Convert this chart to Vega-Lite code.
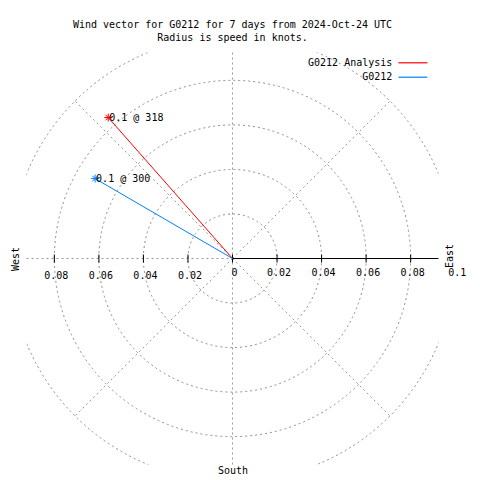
{
  "$schema": "https://vega.github.io/schema/vega-lite/v6.json",
  "width": 412,
  "height": 412,
  "autosize": {"type": "none"},
  "padding": {"left": 26.5, "top": 52.5, "right": 41.5, "bottom": 15.5},
  "background": "white",
  "title": {
    "text": ["Wind vector for G0212 for 7 days from 2024-Oct-24 UTC", "Radius is speed in knots."],
    "font": "DejaVu Sans Mono",
    "fontSize": 10,
    "fontWeight": "normal",
    "lineHeight": 13,
    "offset": 9.5,
    "anchor": "middle",
    "frame": "group",
    "color": "black"
  },
  "config": {
    "view": {"stroke": null},
    "axis": {
      "labels": false,
      "ticks": false,
      "domain": false,
      "grid": false,
      "titleFont": "DejaVu Sans Mono",
      "titleFontSize": 10,
      "titleFontWeight": "normal",
      "titleColor": "black"
    },
    "text": {"font": "DejaVu Sans Mono", "fontSize": 10, "color": "black"}
  },
  "datasets": {
    "rings": [{"r": 0.02}, {"r": 0.04}, {"r": 0.06}, {"r": 0.08}, {"r": 0.1}],
    "spokes": [
      {"x": 0, "y": -0.0925, "x2": 0, "y2": 0.0925},
      {"x": -0.0925, "y": 0, "x2": 0, "y2": 0},
      {"x": 0, "y": 0, "x2": 0.0707, "y2": 0.0707},
      {"x": 0, "y": 0, "x2": -0.0707, "y2": 0.0707},
      {"x": 0, "y": 0, "x2": -0.0707, "y2": -0.0707},
      {"x": 0, "y": 0, "x2": 0.0707, "y2": -0.0707}
    ],
    "ticks": [
      {"v": -0.08, "label": "0.08"},
      {"v": -0.06, "label": "0.06"},
      {"v": -0.04, "label": "0.04"},
      {"v": -0.02, "label": "0.02"},
      {"v": 0, "label": "0"},
      {"v": 0.02, "label": "0.02"},
      {"v": 0.04, "label": "0.04"},
      {"v": 0.06, "label": "0.06"},
      {"v": 0.08, "label": "0.08"}
    ],
    "segments": [
      {"name": "G0212 Analysis", "u": 0, "v": 0, "o": 0},
      {"name": "G0212 Analysis", "u": -0.0558, "v": 0.0633, "o": 1},
      {"name": "G0212", "u": 0, "v": 0, "o": 0},
      {"name": "G0212", "u": -0.0617, "v": 0.0359, "o": 1}
    ],
    "vectors": [
      {"name": "G0212 Analysis", "u": -0.0558, "v": 0.0633, "label": "0.1 @ 318"},
      {"name": "G0212", "u": -0.0617, "v": 0.0359, "label": "0.1 @ 300"}
    ]
  },
  "resolve": {"axis": {"x": "independent", "y": "independent"}},
  "layer": [
    {
      "data": {"name": "rings"},
      "mark": {"type": "point", "shape": "circle", "filled": false, "stroke": "#8c8c8c", "strokeWidth": 1, "strokeDash": [2, 3], "opacity": 1, "clip": true},
      "encoding": {
        "x": {"datum": 0, "type": "quantitative", "scale": {"domain": [-0.0925, 0.0925], "nice": false, "zero": false}, "axis": null},
        "y": {"datum": 0, "type": "quantitative", "scale": {"domain": [-0.0925, 0.0925], "nice": false, "zero": false}, "axis": null},
        "size": {"field": "r", "type": "quantitative", "scale": {"type": "pow", "exponent": 2, "domain": [0, 0.1], "range": [0, 198381]}, "legend": null}
      }
    },
    {
      "data": {"name": "spokes"},
      "mark": {"type": "rule", "stroke": "#999999", "strokeWidth": 1, "strokeDash": [2, 3]},
      "encoding": {
        "x": {"field": "x", "type": "quantitative", "axis": {"title": "South", "orient": "bottom", "titlePadding": 1}},
        "y": {"field": "y", "type": "quantitative", "axis": {"title": "West", "orient": "left", "titlePadding": 6}},
        "x2": {"field": "x2"},
        "y2": {"field": "y2"}
      }
    },
    {
      "data": {"values": [{"a": 0, "b": 0.0925}]},
      "mark": {"type": "rule", "stroke": "black", "strokeWidth": 1},
      "encoding": {
        "x": {"field": "a", "type": "quantitative", "axis": null},
        "x2": {"field": "b"},
        "y": {"datum": 0, "type": "quantitative", "axis": null}
      }
    },
    {
      "data": {"name": "ticks"},
      "mark": {"type": "tick", "orient": "vertical", "size": 8, "thickness": 1, "color": "black", "opacity": 1},
      "encoding": {
        "x": {"field": "v", "type": "quantitative", "axis": null},
        "y": {"datum": 0, "type": "quantitative", "axis": null}
      }
    },
    {
      "data": {"name": "ticks"},
      "transform": [{"filter": "datum.v < 0"}],
      "mark": {"type": "text", "align": "center", "baseline": "middle", "dx": 2, "dy": 17.5},
      "encoding": {
        "x": {"field": "v", "type": "quantitative", "axis": null},
        "y": {"datum": 0, "type": "quantitative", "axis": null},
        "text": {"field": "label"}
      }
    },
    {
      "data": {"values": [
        {"v": 0, "label": "0"},
        {"v": 0.02, "label": "0.02"},
        {"v": 0.04, "label": "0.04"},
        {"v": 0.06, "label": "0.06"},
        {"v": 0.08, "label": "0.08"},
        {"v": 0.1, "label": "0.1"}
      ]},
      "mark": {"type": "text", "align": "center", "baseline": "middle", "dx": 2, "dy": 14.5},
      "encoding": {
        "x": {"field": "v", "type": "quantitative", "axis": null},
        "y": {"datum": 0, "type": "quantitative", "axis": null},
        "text": {"field": "label"}
      }
    },
    {
      "data": {"name": "segments"},
      "mark": {"type": "line", "strokeWidth": 1},
      "encoding": {
        "x": {"field": "u", "type": "quantitative", "axis": null},
        "y": {"field": "v", "type": "quantitative", "axis": null},
        "order": {"field": "o"},
        "color": {
          "field": "name",
          "type": "nominal",
          "scale": {"domain": ["G0212 Analysis", "G0212"], "range": ["#ff0000", "#0080ff"]},
          "legend": {
            "title": null,
            "orient": "none",
            "legendX": 380.9,
            "legendY": 4.8,
            "symbolType": "M-3,0L3,0",
            "symbolSize": 93.4,
            "symbolStrokeWidth": 1.2,
            "labelAlign": "right",
            "labelOffset": -26.1,
            "labelFont": "DejaVu Sans Mono",
            "labelFontSize": 10,
            "labelColor": "black",
            "rowPadding": 3.4,
            "padding": 0
          }
        }
      }
    },
    {
      "data": {"name": "vectors"},
      "mark": {"type": "point", "shape": "M-1,0L1,0M0,-1L0,1M-0.7,-0.7L0.7,0.7M-0.7,0.7L0.7,-0.7", "filled": false, "size": 64, "strokeWidth": 1, "opacity": 1},
      "encoding": {
        "x": {"field": "u", "type": "quantitative", "axis": null},
        "y": {"field": "v", "type": "quantitative", "axis": {"title": "East", "orient": "right", "titleAngle": 270, "titleBaseline": "top", "titlePadding": 6, "titleY": 203}},
        "color": {"field": "name", "type": "nominal", "legend": null}
      }
    },
    {
      "data": {"name": "vectors"},
      "mark": {"type": "text", "align": "left", "baseline": "middle", "dx": 1},
      "encoding": {
        "x": {"field": "u", "type": "quantitative", "axis": null},
        "y": {"field": "v", "type": "quantitative", "axis": null},
        "text": {"field": "label"}
      }
    }
  ]
}
